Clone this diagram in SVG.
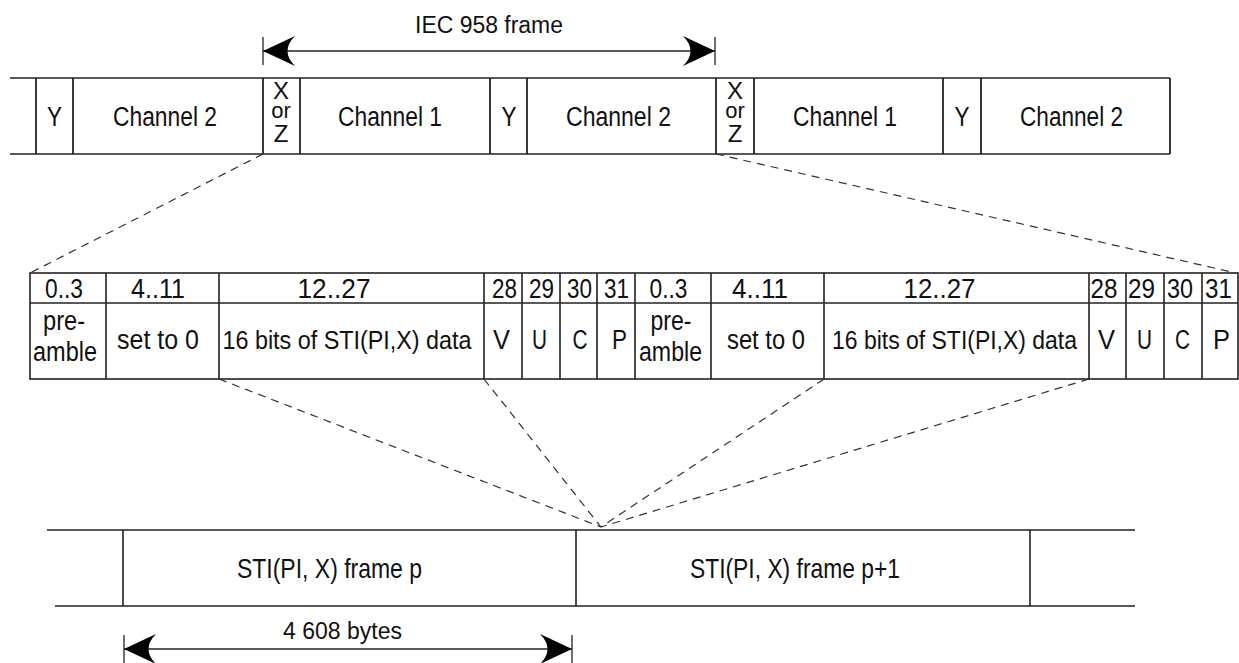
<svg xmlns="http://www.w3.org/2000/svg" width="1239" height="663" viewBox="0 0 1239 663">
<style>
.t{font-family:"Liberation Sans",Arial,sans-serif;fill:#111;text-anchor:middle}
.f23{font-size:23px}
.f24{font-size:24px}
.f25{font-size:25px}
.f27{font-size:27px}
.f28{font-size:28px}
.ln{stroke:#222;stroke-width:1.6;fill:none}
.dash{stroke:#333;stroke-width:1.2;fill:none;stroke-dasharray:8 6}
.dim{stroke:#222;stroke-width:1.3;fill:none}
</style>
<defs>
<marker id="ah" viewBox="-33 -16 34 32" refX="0" refY="0" markerWidth="34" markerHeight="32" markerUnits="userSpaceOnUse" orient="auto-start-reverse">
<path d="M0 0 L-32 -15 Q-17 0 -32 15 Z" fill="#000"/>
</marker>
</defs>

<g id="iec-frame-dimension">
<line class="dim" x1="263" y1="51" x2="715" y2="51" marker-start="url(#ah)" marker-end="url(#ah)"/>
<line class="dim" x1="263" y1="37" x2="263" y2="65"/>
<line class="dim" x1="715" y1="37" x2="715" y2="65"/>
<text class="t f23" x="489" y="33" textLength="148" lengthAdjust="spacingAndGlyphs">IEC 958 frame</text>
</g>

<g id="top-row">
<line class="ln" x1="10" y1="78" x2="1170" y2="78"/>
<line class="ln" x1="10" y1="154" x2="1170" y2="154"/>
<g class="ln" style="stroke-width:1.8">
<line x1="36" y1="78" x2="36" y2="154"/>
<line x1="73" y1="78" x2="73" y2="154"/>
<line x1="263" y1="78" x2="263" y2="154"/>
<line x1="300" y1="78" x2="300" y2="154"/>
<line x1="490" y1="78" x2="490" y2="154"/>
<line x1="527" y1="78" x2="527" y2="154"/>
<line x1="716" y1="78" x2="716" y2="154"/>
<line x1="754" y1="78" x2="754" y2="154"/>
<line x1="943" y1="78" x2="943" y2="154"/>
<line x1="981" y1="78" x2="981" y2="154"/>
<line x1="1170" y1="78" x2="1170" y2="154"/>
</g>
<g id="top-y1"><text class="t f27" x="54.5" y="126" textLength="15" lengthAdjust="spacingAndGlyphs">Y</text></g>
<g id="top-ch2a"><text class="t f27" x="165" y="126" textLength="104" lengthAdjust="spacingAndGlyphs">Channel 2</text></g>
<g id="top-xz1"><text class="t f24"><tspan x="281" y="99">X</tspan><tspan x="281" y="118" style="font-size:22px">or</tspan><tspan x="281" y="142">Z</tspan></text></g>
<g id="top-ch1a"><text class="t f27" x="390" y="126" textLength="104" lengthAdjust="spacingAndGlyphs">Channel 1</text></g>
<g id="top-y2"><text class="t f27" x="509" y="126" textLength="15" lengthAdjust="spacingAndGlyphs">Y</text></g>
<g id="top-ch2b"><text class="t f27" x="618.5" y="126" textLength="105" lengthAdjust="spacingAndGlyphs">Channel 2</text></g>
<g id="top-xz2"><text class="t f24"><tspan x="735" y="99">X</tspan><tspan x="735" y="118" style="font-size:22px">or</tspan><tspan x="735" y="142">Z</tspan></text></g>
<g id="top-ch1b"><text class="t f27" x="845" y="126" textLength="104" lengthAdjust="spacingAndGlyphs">Channel 1</text></g>
<g id="top-y3"><text class="t f27" x="962" y="126" textLength="15" lengthAdjust="spacingAndGlyphs">Y</text></g>
<g id="top-ch2c"><text class="t f27" x="1071.5" y="126" textLength="103" lengthAdjust="spacingAndGlyphs">Channel 2</text></g>
</g>

<g id="bit-table">
<rect class="ln" x="30" y="273" width="1208" height="106"/>
<line class="ln" x1="30" y1="303" x2="1238" y2="303"/>
<g class="ln">
<line x1="106" y1="273" x2="106" y2="379"/>
<line x1="219" y1="273" x2="219" y2="379"/>
<line x1="484" y1="273" x2="484" y2="379"/>
<line x1="522" y1="273" x2="522" y2="379"/>
<line x1="560" y1="273" x2="560" y2="379"/>
<line x1="597" y1="273" x2="597" y2="379"/>
<line x1="635" y1="273" x2="635" y2="379"/>
<line x1="711" y1="273" x2="711" y2="379"/>
<line x1="824" y1="273" x2="824" y2="379"/>
<line x1="1089" y1="273" x2="1089" y2="379"/>
<line x1="1126" y1="273" x2="1126" y2="379"/>
<line x1="1164" y1="273" x2="1164" y2="379"/>
<line x1="1202" y1="273" x2="1202" y2="379"/>
</g>
<g id="hdr">
<text class="t f28" x="64" y="298" textLength="38" lengthAdjust="spacingAndGlyphs">0..3</text>
<text class="t f28" x="158" y="298" textLength="54" lengthAdjust="spacingAndGlyphs">4..11</text>
<text class="t f28" x="334" y="298" textLength="73" lengthAdjust="spacingAndGlyphs">12..27</text>
<text class="t f28" x="504.5" y="298" textLength="25" lengthAdjust="spacingAndGlyphs">28</text>
<text class="t f28" x="541.5" y="298" textLength="25" lengthAdjust="spacingAndGlyphs">29</text>
<text class="t f28" x="579.5" y="298" textLength="25" lengthAdjust="spacingAndGlyphs">30</text>
<text class="t f28" x="616.5" y="298" textLength="25" lengthAdjust="spacingAndGlyphs">31</text>
<text class="t f28" x="668.5" y="298" textLength="38" lengthAdjust="spacingAndGlyphs">0..3</text>
<text class="t f28" x="760" y="298" textLength="56" lengthAdjust="spacingAndGlyphs">4..11</text>
<text class="t f28" x="939.5" y="298" textLength="72" lengthAdjust="spacingAndGlyphs">12..27</text>
<text class="t f28" x="1104" y="298" textLength="27" lengthAdjust="spacingAndGlyphs">28</text>
<text class="t f28" x="1141.5" y="298" textLength="27" lengthAdjust="spacingAndGlyphs">29</text>
<text class="t f28" x="1180" y="298" textLength="26" lengthAdjust="spacingAndGlyphs">30</text>
<text class="t f28" x="1218.5" y="298" textLength="27" lengthAdjust="spacingAndGlyphs">31</text>
</g>
<g id="body">
<text class="t f27"><tspan x="64" y="330" textLength="42" lengthAdjust="spacingAndGlyphs">pre-</tspan><tspan x="65" y="361" textLength="64" lengthAdjust="spacingAndGlyphs">amble</tspan></text>
<text class="t f27" x="158" y="349" textLength="82" lengthAdjust="spacingAndGlyphs">set to 0</text>
<text class="t f25" x="347" y="349" textLength="249" lengthAdjust="spacingAndGlyphs">16 bits of STI(PI,X) data</text>
<text class="t f27" x="501.5" y="349" textLength="17" lengthAdjust="spacingAndGlyphs">V</text>
<text class="t f27" x="539.5" y="349" textLength="15" lengthAdjust="spacingAndGlyphs">U</text>
<text class="t f27" x="580" y="349" textLength="15" lengthAdjust="spacingAndGlyphs">C</text>
<text class="t f27" x="619.5" y="349" textLength="15" lengthAdjust="spacingAndGlyphs">P</text>
<text class="t f27"><tspan x="671" y="330" textLength="41" lengthAdjust="spacingAndGlyphs">pre-</tspan><tspan x="670.5" y="361" textLength="63" lengthAdjust="spacingAndGlyphs">amble</tspan></text>
<text class="t f27" x="766" y="349" textLength="78" lengthAdjust="spacingAndGlyphs">set to 0</text>
<text class="t f25" x="954.5" y="349" textLength="245" lengthAdjust="spacingAndGlyphs">16 bits of STI(PI,X) data</text>
<text class="t f27" x="1106.5" y="349" textLength="17" lengthAdjust="spacingAndGlyphs">V</text>
<text class="t f27" x="1144.5" y="349" textLength="15" lengthAdjust="spacingAndGlyphs">U</text>
<text class="t f27" x="1182.5" y="349" textLength="15" lengthAdjust="spacingAndGlyphs">C</text>
<text class="t f27" x="1221.5" y="349" textLength="17" lengthAdjust="spacingAndGlyphs">P</text>
</g>
</g>

<g id="sti-row">
<line class="ln" x1="47" y1="530" x2="1135" y2="530"/>
<line class="ln" x1="55" y1="606" x2="1135" y2="606"/>
<line class="ln" x1="123" y1="530" x2="123" y2="606"/>
<line class="ln" x1="576" y1="530" x2="576" y2="606"/>
<line class="ln" x1="1030" y1="530" x2="1030" y2="606"/>
<g id="sti-frame-p"><text class="t f28" x="329.5" y="578" textLength="185" lengthAdjust="spacingAndGlyphs">STI(PI, X) frame p</text></g>
<g id="sti-frame-p1"><text class="t f28" x="795" y="578" textLength="210" lengthAdjust="spacingAndGlyphs">STI(PI, X) frame p+1</text></g>
</g>

<g id="bytes-dimension">
<line class="dim" x1="124" y1="649" x2="572" y2="649" marker-start="url(#ah)" marker-end="url(#ah)"/>
<line class="dim" x1="124" y1="635" x2="124" y2="663"/>
<line class="dim" x1="572" y1="635" x2="572" y2="663"/>
<text class="t f23" x="342.5" y="639" textLength="119" lengthAdjust="spacingAndGlyphs">4 608 bytes</text>
</g>

<g id="connectors">
<line class="dash" x1="263" y1="154" x2="30" y2="273"/>
<line class="dash" x1="716" y1="154" x2="1236" y2="273"/>
<line class="dash" x1="219" y1="379" x2="601" y2="527"/>
<line class="dash" x1="484" y1="379" x2="601" y2="527"/>
<line class="dash" x1="824" y1="379" x2="601" y2="527"/>
<line class="dash" x1="1089" y1="379" x2="601" y2="527"/>
</g>
</svg>
